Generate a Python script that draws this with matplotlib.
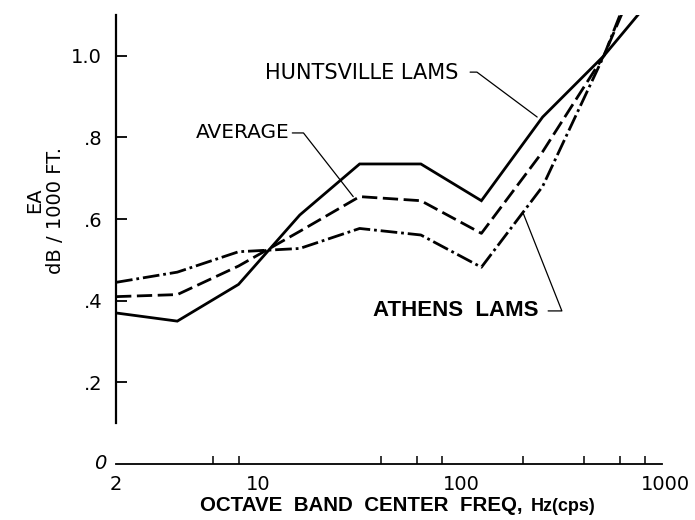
import numpy as np
import matplotlib
matplotlib.use('Agg')
import matplotlib.pyplot as plt

# octave band centre frequencies (Hz)
freq = [2, 4, 8, 16, 31.5, 63, 125, 250, 500, 1000]
# EA, dB / 1000 ft
huntsville = [0.37, 0.35, 0.44, 0.61, 0.735, 0.735, 0.645, 0.85, 1.0, 1.18]
average = [0.41, 0.415, 0.485, 0.57, 0.655, 0.645, 0.565, 0.765, 1.0, 1.35]
athens = [0.445, 0.47, 0.52, 0.528, 0.577, 0.561, 0.482, 0.68, 1.0, 1.38]

ytick_vals = [0.2, 0.4, 0.6, 0.8, 1.0]
ytick_labels = ['.2', '.4', '.6', '.8', '1.0']
xtick_vals = [2, 10, 100, 1000]
xtick_labels = ['2', '10', '100', '1000']
xminor_vals = [6, 8, 40, 60, 80, 200, 400, 600, 800]

fig = plt.figure(figsize=(6.95, 5.2), dpi=100)
ax = fig.add_axes([0.167, 0.1077, 0.79, 0.8635])

ax.plot(freq, huntsville, color='black', lw=2, solid_joinstyle='miter')
ax.plot(freq, average, color='black', lw=2, dashes=(5.5, 2))
ax.plot(freq, athens, color='black', lw=2, dashes=(6, 1.4, 1, 1.4))

ax.set_xscale('log')
ax.set_xlim(2, 1000)
ax.set_ylim(0, 1.1)

for s in ['top', 'right']:
    ax.spines[s].set_visible(False)
ax.spines['left'].set_bounds(0.1, 1.1)
ax.spines['bottom'].set_bounds(2, 970)
ax.spines['left'].set_linewidth(1.6)
ax.spines['bottom'].set_linewidth(1.3)

ax.set_yticks(ytick_vals)
ax.set_yticklabels(ytick_labels)
ax.set_xticks(xtick_vals)
ax.set_xticklabels(xtick_labels)
ax.set_xticks(xminor_vals, minor=True)
ax.xaxis.set_minor_formatter(matplotlib.ticker.NullFormatter())

ax.tick_params(axis='y', direction='in', length=8, width=1.3, pad=10, labelsize=14)
ax.tick_params(axis='x', which='major', length=0, pad=8, labelsize=14)
ax.tick_params(axis='x', which='minor', direction='in', length=6, width=1.1)

# lone "0" at the origin
ax.text(-0.029, 0, '0', transform=ax.get_yaxis_transform(), ha='center', va='center',
        fontsize=14, style='italic')

# curve labels with leader lines
ax.text(96, 0.957, 'HUNTSVILLE LAMS', ha='right', va='center', fontsize=15)
ax.annotate('', xy=(235, 0.85), xytext=(110, 0.96),
            arrowprops=dict(arrowstyle='-', lw=0.9, shrinkA=0, shrinkB=0,
                            connectionstyle='angle,angleA=0,angleB=-36.7,rad=0'))

ax.text(14.3, 0.813, 'AVERAGE', ha='right', va='center', fontsize=14.5)
ax.annotate('', xy=(29.3, 0.655), xytext=(14.7, 0.811),
            arrowprops=dict(arrowstyle='-', lw=0.9, shrinkA=0, shrinkB=0,
                            connectionstyle='angle,angleA=0,angleB=-52,rad=0'))

ax.text(238, 0.377, 'ATHENS  LAMS', ha='right', va='center', fontsize=16,
        family='Liberation Sans', weight='bold')
ax.annotate('', xy=(200, 0.616), xytext=(266, 0.375),
            arrowprops=dict(arrowstyle='-', lw=0.9, shrinkA=0, shrinkB=0,
                            connectionstyle='angle,angleA=0,angleB=111.6,rad=0'))

# axis titles
fig.text(35 / 695, 1 - 200 / 520, 'EA', rotation=90, ha='center', va='center', fontsize=14)
fig.text(56 / 695, 1 - 210 / 520, 'dB / 1000 FT.', rotation=90, ha='center', va='center',
         fontsize=14)
fig.text(200 / 695, 1 - 511 / 520, 'OCTAVE  BAND  CENTER  FREQ,', ha='left', va='baseline',
         fontsize=14.8, family='Liberation Sans', weight='bold')
fig.text(531 / 695, 1 - 511 / 520, 'Hz(cps)', ha='left', va='baseline',
         fontsize=13, family='Liberation Sans', weight='bold')

fig.savefig('out.png', dpi=100)
